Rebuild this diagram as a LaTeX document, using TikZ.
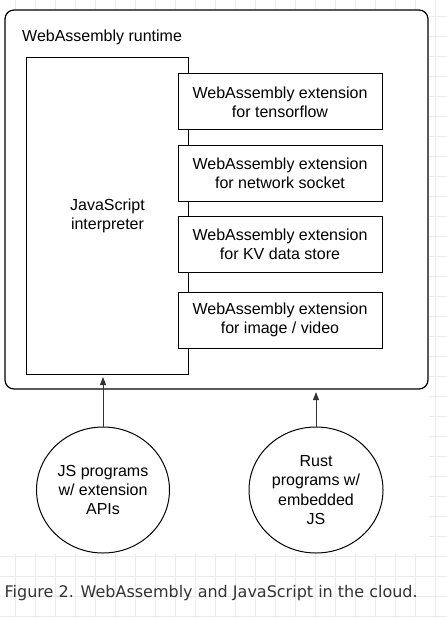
\documentclass[tikz,border=0pt]{standalone}
\usepackage{fontspec}
\setmainfont{Liberation Sans}
\newfontfamily\capfont{DejaVu Sans}
\usetikzlibrary{shapes.geometric,arrows.meta}
\definecolor{gridc}{HTML}{EBEBEB}
\definecolor{capc}{HTML}{333333}
\definecolor{arrc}{HTML}{333333}
\tikzset{
  lbl/.style={font=\fontsize{16bp}{19.2bp}\selectfont, align=center, text=black},
  box/.style={lbl, draw=black, line width=1bp, fill=white, rectangle, inner sep=0pt},
  extbox/.style={box, minimum width=204bp, minimum height=56bp},
  prog/.style={lbl, draw=black, line width=1bp, fill=white, ellipse, inner sep=0pt, minimum width=133bp, minimum height=126bp},
  arr/.style={draw=arrc, line width=1bp, -{Triangle[length=8bp,width=6bp]}, shorten >=2.5bp}
}
\begin{document}
\begin{tikzpicture}[x=1bp,y=-1bp]
\useasboundingbox (0,0) rectangle (447,618);
% background grid
\foreach \gx in {15,35,...,445} \draw[gridc, line width=0.8bp] (\gx,0) -- (\gx,618);
\foreach \gy in {16,36,...,616} \draw[gridc, line width=0.8bp] (0,\gy) -- (447,\gy);
\fill[white] (0,9) rectangle (429,554);
% outer runtime box
\node[draw=black, line width=1.2bp, fill=white, rounded corners=9bp, minimum width=423bp, minimum height=379bp, inner sep=0pt] (rt) at (216.5,199.5) {};
\node[lbl, anchor=base west, inner sep=0pt] (rtl) at (22,41.5) {WebAssembly runtime};
% JS interpreter
\node[box, minimum width=161bp, minimum height=316bp] (js) at (107.5,216) {JavaScript\\interpreter};
% extensions
\node[extbox] (e1) at (280,102) {WebAssembly extension\\for tensorflow};
\node[extbox] (e2) at (280,173.5) {WebAssembly extension\\for network socket};
\node[extbox] (e3) at (280,244) {WebAssembly extension\\for KV data store};
\node[extbox] (e4) at (280,320) {WebAssembly extension\\for image / video};
% programs
\node[prog] (c1) at (103,490) {JS programs\\w/ extension\\APIs};
\node[prog, minimum width=134bp] (c2) at (316,490) {Rust\\programs w/\\embedded\\JS};
% connectors
\draw[arr] (c1.north) -- (c1.north |- js.south);
\draw[arr] (c2.north) -- (c2.north |- rt.south);
% caption
\node[anchor=base west, inner sep=0pt, text=capc, font=\capfont\fontsize{16bp}{19bp}\selectfont] (cap) at (4.5,597) {Figure 2. WebAssembly and JavaScript in the cloud.};
\end{tikzpicture}
\end{document}
